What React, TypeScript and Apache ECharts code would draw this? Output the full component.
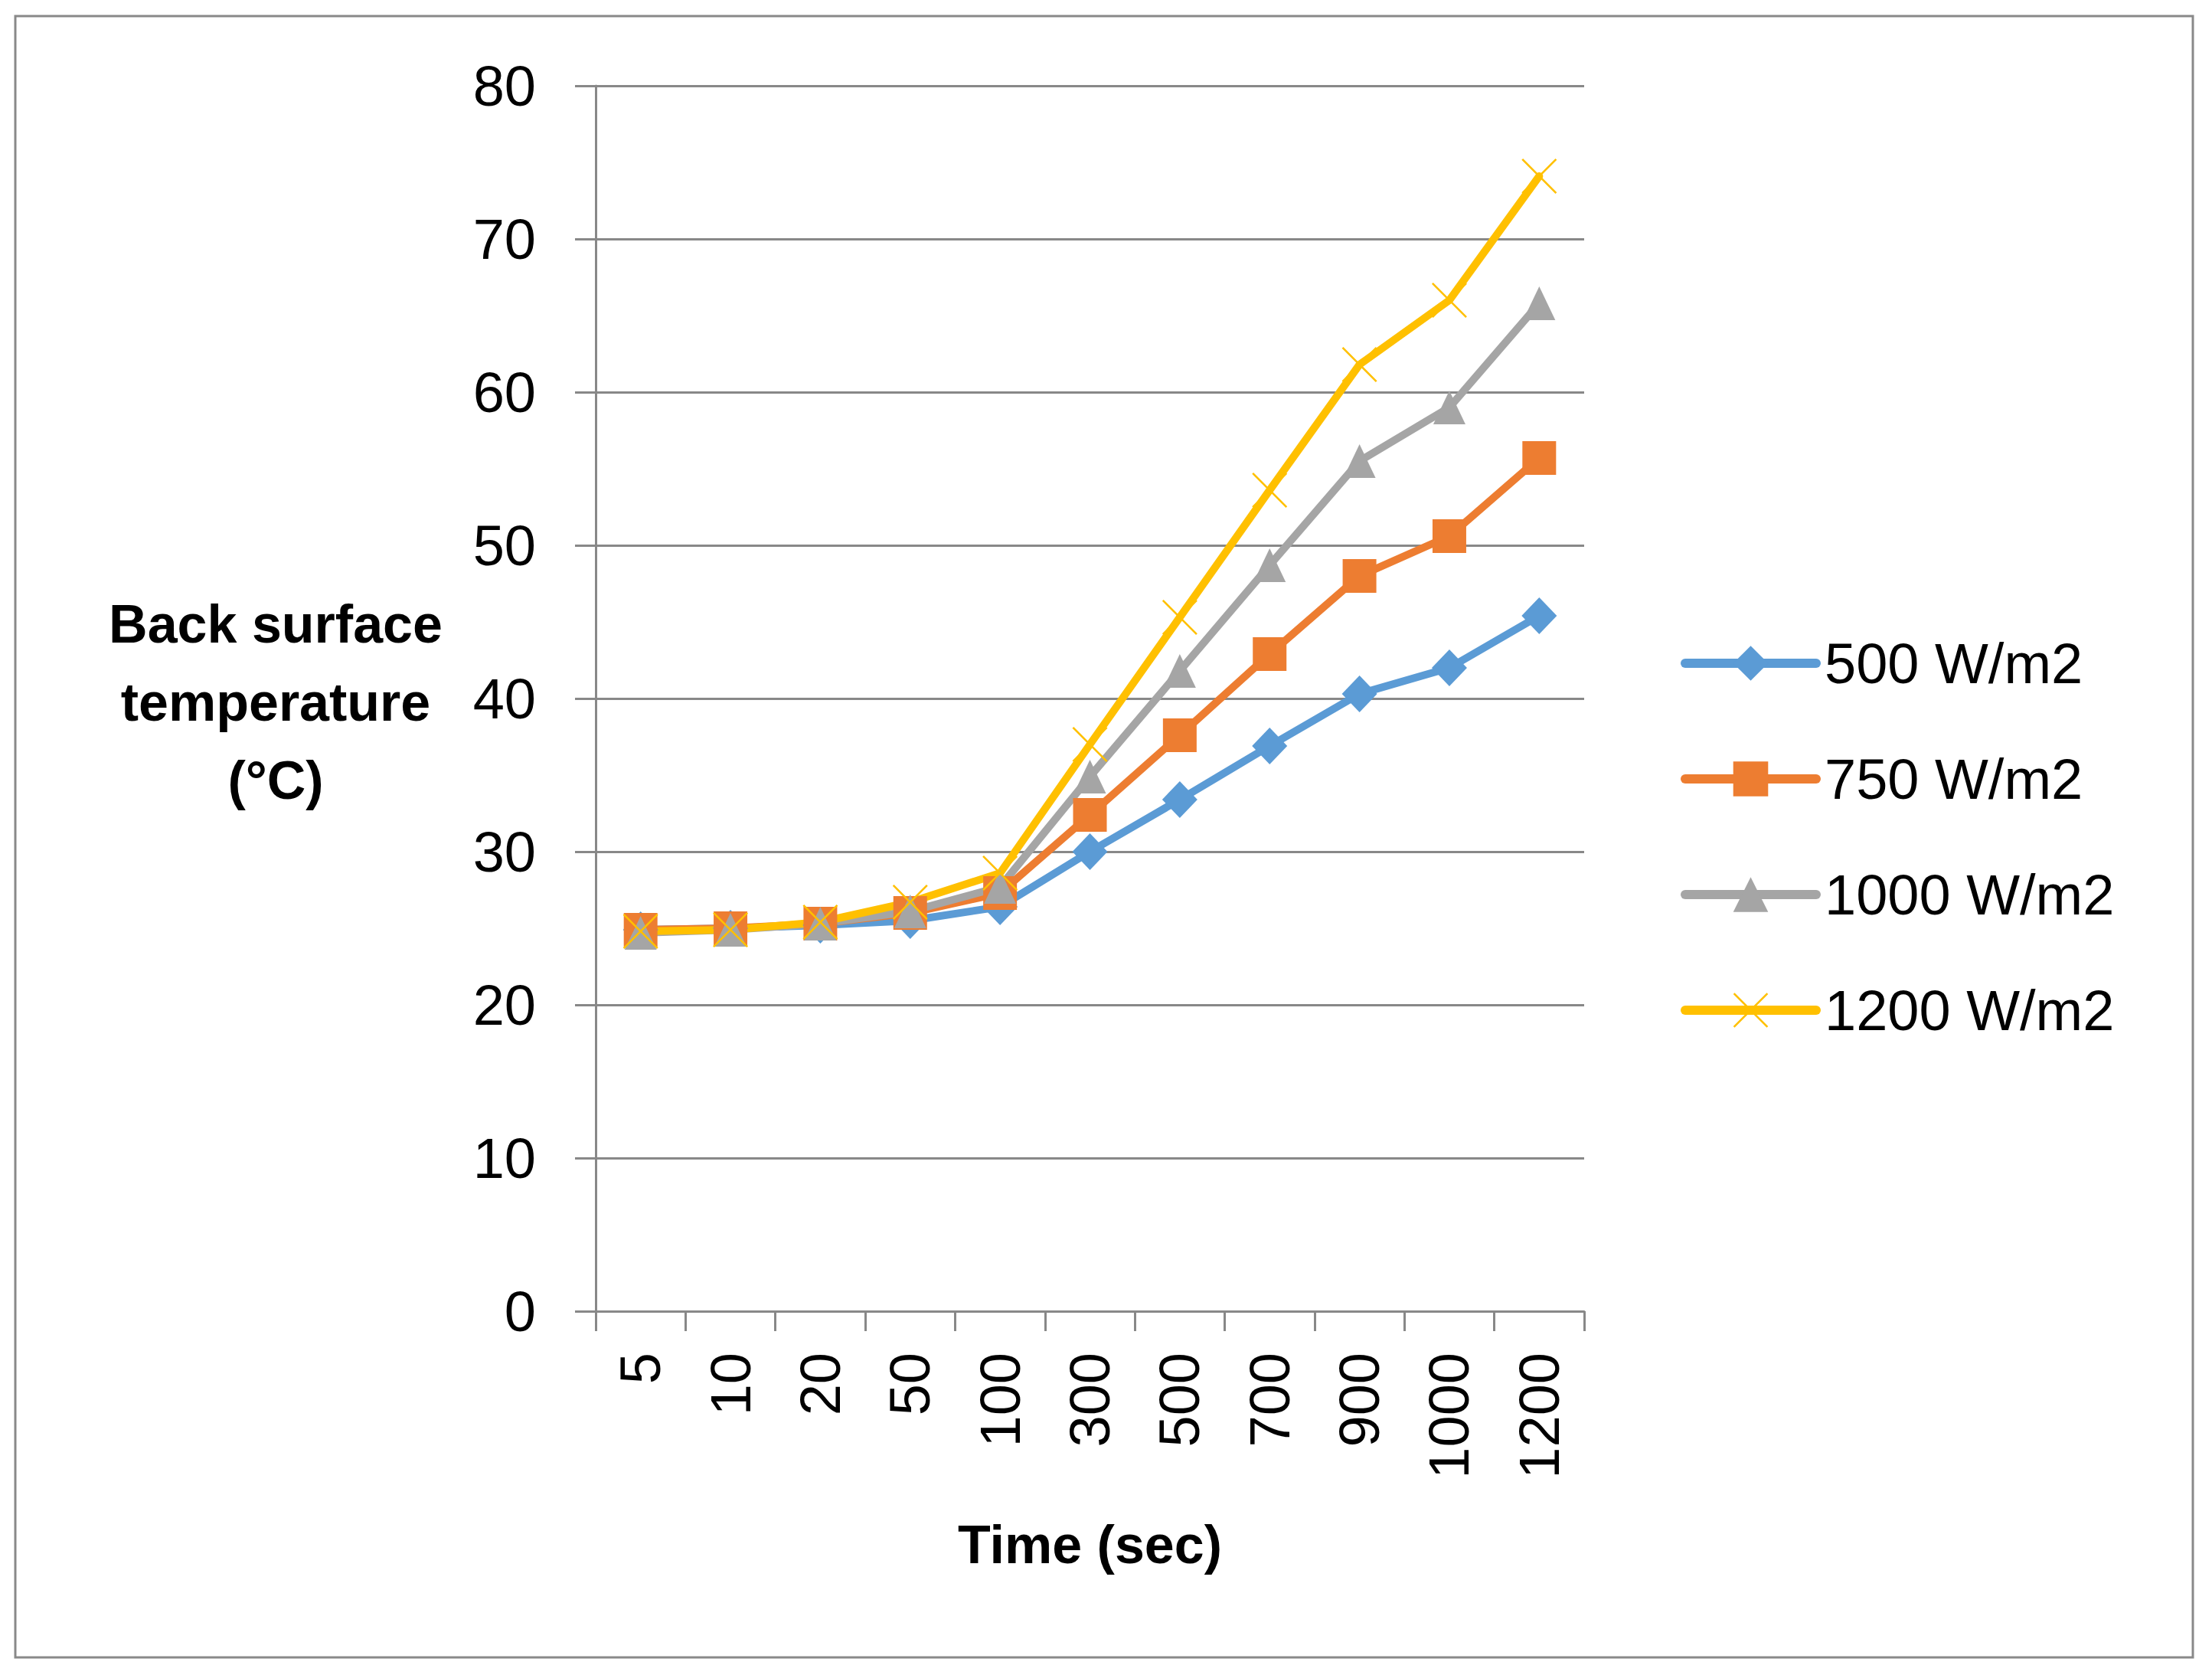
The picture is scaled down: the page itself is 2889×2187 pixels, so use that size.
import React, { useEffect, useRef } from "react";
import * as echarts from "echarts";

const categories = ["5", "10", "20", "50", "100", "300", "500", "700", "900", "1000", "1200"];
const seriesNames = ["500 W/m2", "750 W/m2", "1000 W/m2", "1200 W/m2"];
const s500 = [24.9, 25.0, 25.2, 25.5, 26.4, 30.0, 33.4, 36.9, 40.3, 42.0, 45.4];
const s750 = [24.9, 25.0, 25.3, 26.0, 27.3, 32.4, 37.6, 42.9, 48.0, 50.6, 55.7];
const s1000 = [24.7, 24.9, 25.3, 26.1, 27.7, 34.9, 41.8, 48.7, 55.5, 59.0, 65.8];
const s1200 = [24.8, 24.9, 25.4, 26.7, 28.6, 37.0, 45.3, 53.6, 61.8, 66.0, 74.1];
const yTicks = { min: 0, max: 80, interval: 10 };

const FONT = "'Liberation Sans', Arial, sans-serif";
const GRID_COLOR = "#888888";
const X_SYMBOL =
  "path://M0,4 L4,0 L50,46 L96,0 L100,4 L54,50 L100,96 L96,100 L50,54 L4,100 L0,96 L46,50 Z";

export default function App() {
  const ref = useRef<HTMLDivElement>(null);

  useEffect(() => {
    document.body.style.margin = "0";
    const chart = echarts.init(ref.current!, null, { renderer: "svg" });
    const mk = (name: string, data: number[], color: string, symbol: string, size: any) => ({
      name,
      type: "line",
      data,
      symbol,
      symbolSize: size,
      lineStyle: { color, width: 10, cap: "round", join: "round" },
      itemStyle: { color },
    });
    chart.setOption({
      animation: false,
      backgroundColor: "#ffffff",
      textStyle: { fontFamily: FONT },
      grid: { left: 778, top: 112, width: 1291, height: 1600, containLabel: false },
      legend: {
        orient: "vertical",
        left: 2195,
        top: 829,
        padding: 0,
        itemWidth: 171,
        itemHeight: 57,
        itemGap: 77,
        lineStyle: { width: 12 },
        textStyle: { fontSize: 74, color: "#000", fontFamily: FONT, padding: [0, 0, 0, 6] },
        data: seriesNames,
      },
      xAxis: {
        type: "category",
        data: categories,
        boundaryGap: true,
        name: "Time (sec)",
        nameLocation: "middle",
        nameGap: 270,
        nameTextStyle: { fontSize: 70, fontWeight: "bold", color: "#000", fontFamily: FONT },
        axisLine: { show: true, lineStyle: { color: GRID_COLOR, width: 3 } },
        axisTick: { show: true, length: 26, lineStyle: { color: GRID_COLOR, width: 3 } },
        axisLabel: { rotate: 90, margin: 54, fontSize: 74, color: "#000", fontFamily: FONT, interval: 0 },
        splitLine: { show: false },
      },
      yAxis: {
        type: "value",
        min: yTicks.min,
        max: yTicks.max,
        interval: yTicks.interval,
        axisLine: { show: true, lineStyle: { color: GRID_COLOR, width: 3 } },
        axisTick: { show: true, length: 27, lineStyle: { color: GRID_COLOR, width: 3 } },
        axisLabel: { margin: 78, fontSize: 74, color: "#000", fontFamily: FONT },
        splitLine: { show: true, lineStyle: { color: GRID_COLOR, width: 3 } },
      },
      graphic: [
        {
          type: "rect",
          shape: { x: 20, y: 21, width: 2844, height: 2143 },
          style: { fill: "none", stroke: "#898989", lineWidth: 3 },
          silent: true,
          z: -10,
        },
        {
          type: "text",
          x: 360,
          y: 917,
          style: {
            text: "Back surface\ntemperature\n(°C)",
            fontSize: 70,
            fontWeight: "bold",
            fontFamily: FONT,
            fill: "#000",
            align: "center",
            verticalAlign: "middle",
            lineHeight: 102,
          },
        },
      ],
      series: [
        mk(seriesNames[0], s500, "#5B9BD5", "diamond", [46, 48]),
        mk(seriesNames[1], s750, "#ED7D31", "rect", 44),
        mk(seriesNames[2], s1000, "#A5A5A5", "triangle", [42, 44]),
        mk(seriesNames[3], s1200, "#FFC000", X_SYMBOL, 46),
      ],
    });
    return () => chart.dispose();
  }, []);

  return <div ref={ref} style={{ width: 2889, height: 2187 }} />;
}
